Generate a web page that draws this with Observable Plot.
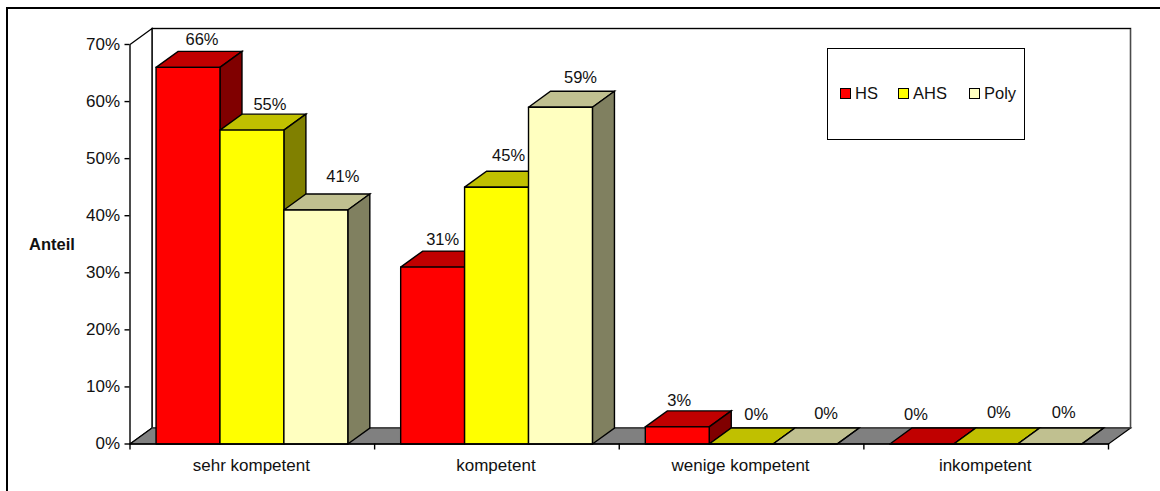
<!DOCTYPE html>
<html>
<head>
<meta charset="utf-8">
<script src="https://cdn.jsdelivr.net/npm/d3@7"></script>
<script src="https://cdn.jsdelivr.net/npm/@observablehq/plot@0.6"></script>
<style>
html,body{margin:0;padding:0;background:#fff;width:1160px;height:491px;overflow:hidden;font-family:"Liberation Sans",Arial,sans-serif;}
#wrap{position:relative;width:1160px;height:491px;}
#wrap svg{display:block;position:absolute;left:0;top:0;background:transparent;}
#frame{position:absolute;left:6px;top:7px;right:0;bottom:0;border-left:2px solid #000;border-top:2px solid #000;}
#legend{position:absolute;left:827px;top:48px;width:196px;height:90px;background:#fff;border:1px solid #000;color:#111;font-size:16.5px;}
#legend span.i{position:absolute;top:35px;line-height:18px;white-space:nowrap;}
#legend i{position:absolute;top:4px;left:-15px;width:9px;height:9px;border:1px solid #000;display:block;}
</style>
</head>
<body>
<div id="wrap"><div id="frame"></div></div>
<script>
const categories = ["sehr kompetent", "kompetent", "wenige kompetent", "inkompetent"];
const seriesNames = ["HS", "AHS", "Poly"];
const HS = [0.66, 0.31, 0.03, 0];
const AHS = [0.55, 0.45, 0, 0];
const Poly = [0.41, 0.59, 0, 0];
const yTicks = [0, 0.1, 0.2, 0.3, 0.4, 0.5, 0.6, 0.7];

const frontColors = ["#ff0000", "#ffff00", "#ffffc0"];
const topColors = ["#c00000", "#c0c000", "#c0c090"];
const sideColors = ["#800000", "#808000", "#808060"];
const labelNudgeX = [[3, 7, 16], [-1, 1, 9], [-9, 4, 10], [-17, 2, 3]];
const labelNudgeY = [[0, 3, -5], [1, -3, -2], [2, -1, -2], [-1, -3, -3]];

const series = [HS, AHS, Poly];
const nCat = categories.length;
const depthX = 0.09, depthY = 0.028;   // oblique projection depth, in data units
const barW = 0.2613, pad = 0.1065;

function face(points, fill, stroke = "#000", strokeWidth = 1.4) {
  const pts = [...points, points[0]].map(([x, y]) => ({x, y}));
  return Plot.line(pts, {x: "x", y: "y", fill, stroke, strokeWidth, strokeLinejoin: "miter", strokeMiterlimit: 4});
}

const marks = [];
// back wall
marks.push(face([[depthX, depthY], [nCat + depthX, depthY], [nCat + depthX, 0.7 + depthY], [depthX, 0.7 + depthY]], "#fff", "#4a4a4a", 1.6));
marks.push(Plot.line([{x: depthX, y: 0.7 + depthY}, {x: nCat + depthX, y: 0.7 + depthY}], {x: "x", y: "y", stroke: "#000", strokeWidth: 1}));
// left wall
marks.push(face([[0, 0], [0, 0.7], [depthX, 0.7 + depthY], [depthX, depthY]], "#fff", "#000", 1.4));
// floor
marks.push(face([[0, 0], [nCat, 0], [nCat + depthX, depthY], [depthX, depthY]], "#808080", "#000", 1.2));
marks.push(Plot.line([{x: depthX, y: depthY}, {x: nCat + depthX, y: depthY}], {x: "x", y: "y", stroke: "#555", strokeWidth: 1.2}));

// bars, painted back-to-front, left to right
categories.forEach((c, ci) => {
  series.forEach((s, si) => {
    const v = s[ci];
    const x0 = ci + pad + si * barW, x1 = x0 + barW;
    marks.push(face([[x0, v], [x1, v], [x1 + depthX, v + depthY], [x0 + depthX, v + depthY]], topColors[si]));
    marks.push(face([[x1, 0], [x1 + depthX, depthY], [x1 + depthX, v + depthY], [x1, v]], sideColors[si]));
    marks.push(face([[x0, 0], [x1, 0], [x1, v], [x0, v]], frontColors[si]));
  });
});

// front edge of the floor
marks.push(Plot.line([{x: 0, y: 0}, {x: nCat, y: 0}], {x: "x", y: "y", stroke: "#000", strokeWidth: 1.6}));

// value labels
categories.forEach((c, ci) => {
  series.forEach((s, si) => {
    const v = s[ci];
    marks.push(Plot.text([{x: ci + pad + (si + 0.5) * barW + depthX / 2, y: v + depthY, t: d3.format(".0%")(v)}], {
      x: "x", y: "y", text: "t", dy: -12 + labelNudgeY[ci][si], dx: labelNudgeX[ci][si], fill: "#111", fontSize: 16.5, lineAnchor: "middle"
    }));
  });
});

// axes
marks.push(Plot.axisY({ticks: yTicks, tickFormat: d3.format(".0%"), tickSize: 5, tickPadding: 5, label: null, fontSize: 17, strokeWidth: 1.4, stroke: "#000", fill: "#111", color: "#111"}));
marks.push(Plot.axisX({ticks: d3.range(nCat + 1), tickFormat: () => "", tickSize: 6, label: null, strokeWidth: 1.4}));
marks.push(Plot.axisX({ticks: d3.range(nCat).map(i => i + 0.5), tickFormat: d => categories[Math.floor(d)], tickSize: 0, tickPadding: 15, label: null, fontSize: 17, fill: "#111", dx: -1}));
marks.push(Plot.text(["Anteil"], {text: d => d, x: () => 0, y: () => 0.35, textAnchor: "start", dx: -101, dy: 0, fontWeight: "bold", fontSize: 16.5, fill: "#111"}));

const chart = Plot.plot({
  width: 1160, height: 491,
  marginLeft: 129.5, marginRight: 52, marginTop: 44, marginBottom: 47.5,
  x: {domain: [0, nCat], axis: null},
  y: {domain: [0, 0.7], axis: null},
  style: {fontFamily: '"Liberation Sans", Arial, sans-serif', background: "transparent", overflow: "visible"},
  marks
});
const wrap = document.getElementById("wrap");
wrap.appendChild(chart);

// legend box inside the plot area
const legend = document.createElement("div");
legend.id = "legend";
const lefts = [27, 85, 156];
seriesNames.forEach((n, i) => {
  const it = document.createElement("span");
  it.className = "i";
  it.style.left = lefts[i] + "px";
  it.textContent = n;
  const sw = document.createElement("i");
  sw.style.background = frontColors[i];
  it.appendChild(sw);
  legend.appendChild(it);
});
wrap.appendChild(legend);
</script>
</body>
</html>
